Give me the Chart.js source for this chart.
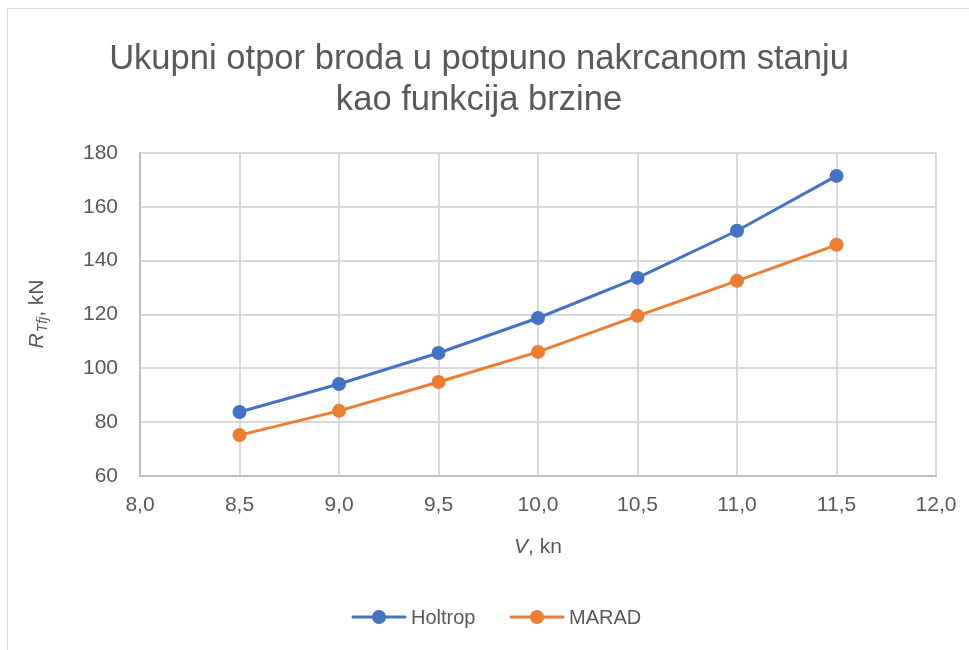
<!DOCTYPE html>
<html>
<head>
<meta charset="utf-8">
<script src="https://cdn.jsdelivr.net/npm/chart.js@4/dist/chart.umd.min.js"></script>
<style>
  html, body { margin: 0; padding: 0; background: #fff; overflow: hidden; }
  #frame { position: absolute; left: 7px; top: 8px; width: 1000px; height: 1000px; border: 1px solid #d9d9d9; }
  #wrap { position: absolute; left: 0; top: 0; width: 969px; height: 650px; }
</style>
</head>
<body>
<div id="frame"></div>
<div id="wrap"><canvas id="resistanceChart" width="969" height="650"></canvas></div>
<script>
const speeds = [8.5, 9.0, 9.5, 10.0, 10.5, 11.0, 11.5];
const holtrop = [83.8, 94.2, 105.7, 118.7, 133.6, 151.1, 171.5];
const marad = [75.2, 84.2, 94.9, 106.1, 119.5, 132.5, 145.9];
const titleLines = ['Ukupni otpor broda u potpuno nakrcanom stanju', 'kao funkcija brzine'];
const seriesNames = ['Holtrop', 'MARAD'];

const textColor = '#595959';
const fontFamily = '"Liberation Sans", Arial, sans-serif';

const ctx = document.getElementById('resistanceChart').getContext('2d');

function toPoints(values) {
  return speeds.map((v, i) => ({ x: v, y: values[i] }));
}

// title, axis titles and legend drawn by hand (mixed italic / subscript text)
const decorations = {
  id: 'decorations',
  afterDraw(chart) {
    const c = chart.ctx;
    const area = chart.chartArea;
    c.save();
    c.fillStyle = textColor;

    // chart title, fitted to the width of the original
    c.font = '30px ' + fontFamily;
    const w = c.measureText(titleLines[0]).width;
    const size = 30 * 740 / w;
    c.font = size + 'px ' + fontFamily;
    c.textAlign = 'center';
    c.textBaseline = 'alphabetic';
    c.fillText(titleLines[0], 479, 69);
    c.fillText(titleLines[1], 479, 110);

    // x axis title: "V, kn"
    c.textBaseline = 'middle';
    c.textAlign = 'left';
    const cx = (area.left + area.right) / 2;
    c.font = 'italic 21px ' + fontFamily;
    const wV = c.measureText('V').width;
    c.font = '21px ' + fontFamily;
    const wRest = c.measureText(', kn').width;
    let x0 = cx - (wV + wRest) / 2;
    c.font = 'italic 21px ' + fontFamily;
    c.fillText('V', x0, 547);
    c.font = '21px ' + fontFamily;
    c.fillText(', kn', x0 + wV, 547);

    // y axis title: "R_Tfj, kN" rotated
    c.save();
    c.translate(37, (area.top + area.bottom) / 2);
    c.rotate(-Math.PI / 2);
    c.font = 'italic 21px ' + fontFamily;
    const wR = c.measureText('R').width;
    c.font = 'italic 14px ' + fontFamily;
    const wSub = c.measureText('Tfj').width;
    c.font = '21px ' + fontFamily;
    const wKn = c.measureText(', kN').width;
    let y0 = -(wR + wSub + wKn) / 2;
    c.font = 'italic 21px ' + fontFamily;
    c.fillText('R', y0, 0);
    c.font = 'italic 14px ' + fontFamily;
    c.fillText('Tfj', y0 + wR + 1, 6);
    c.font = '21px ' + fontFamily;
    c.fillText(', kN', y0 + wR + wSub + 1, 0);
    c.restore();

    // legend
    const items = [
      { name: seriesNames[0], color: '#4472C4', x: 353 },
      { name: seriesNames[1], color: '#ED7D31', x: 511 }
    ];
    c.font = '20px ' + fontFamily;
    items.forEach(it => {
      c.strokeStyle = it.color;
      c.lineWidth = 3;
      c.lineCap = 'round';
      c.beginPath();
      c.moveTo(it.x, 617);
      c.lineTo(it.x + 52, 617);
      c.stroke();
      c.fillStyle = it.color;
      c.beginPath();
      c.arc(it.x + 26, 617, 7, 0, Math.PI * 2);
      c.fill();
      c.fillStyle = textColor;
      c.fillText(it.name, it.x + 58, 618);
    });
    c.restore();
  }
};

new Chart(ctx, {
  type: 'line',
  data: {
    datasets: [
      {
        label: seriesNames[0],
        data: toPoints(holtrop),
        borderColor: '#4472C4',
        backgroundColor: '#4472C4',
        borderWidth: 3,
        pointRadius: 7,
        pointHoverRadius: 7,
        pointBorderWidth: 0,
        tension: 0
      },
      {
        label: seriesNames[1],
        data: toPoints(marad),
        borderColor: '#ED7D31',
        backgroundColor: '#ED7D31',
        borderWidth: 3,
        pointRadius: 7,
        pointHoverRadius: 7,
        pointBorderWidth: 0,
        tension: 0
      }
    ]
  },
  options: {
    responsive: false,
    animation: false,
    layout: { padding: { left: 0, right: 33, top: 153, bottom: 0 } },
    plugins: {
      legend: { display: false },
      title: { display: false },
      tooltip: { enabled: false }
    },
    scales: {
      x: {
        type: 'linear',
        min: 8,
        max: 12,
        afterFit(axis) {
          axis.height = 174;
          axis.paddingLeft = 0;
          axis.paddingRight = 0;
        },
        ticks: {
          stepSize: 0.5,
          color: textColor,
          font: { family: fontFamily, size: 21 },
          padding: 17,
          callback: v => v.toFixed(1).replace('.', ',')
        },
        grid: { color: '#d9d9d9', lineWidth: 2, drawTicks: false },
        border: { color: '#bfbfbf', width: 2 }
      },
      y: {
        min: 60,
        max: 180,
        afterFit(axis) {
          axis.width = 140;
          axis.paddingTop = 0;
          axis.paddingBottom = 0;
        },
        ticks: {
          stepSize: 20,
          color: textColor,
          font: { family: fontFamily, size: 21 },
          padding: 22
        },
        grid: { color: '#d9d9d9', lineWidth: 2, drawTicks: false },
        border: { color: '#bfbfbf', width: 2 }
      }
    }
  },
  plugins: [decorations]
});
</script>
</body>
</html>
